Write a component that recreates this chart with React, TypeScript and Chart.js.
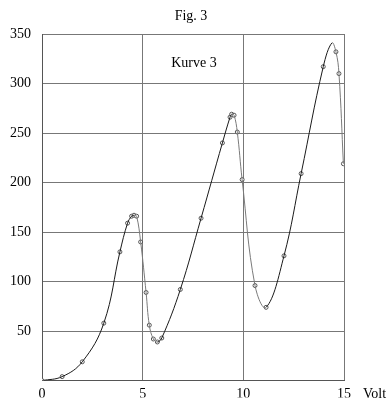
import React, { useEffect, useRef } from "react";
import { Chart, registerables } from "chart.js";

Chart.register(...registerables);

// Measured points (markers) of Kurve 3
const markerX = [0, 1.0, 2.0, 3.07, 3.87, 4.25, 4.45, 4.57, 4.7, 4.9, 5.17, 5.33, 5.53, 5.73, 5.95, 6.87, 7.9, 8.96, 9.34, 9.42, 9.54, 9.7, 9.94, 10.58, 11.13, 12.02, 12.87, 13.97, 14.6, 14.75, 14.97];
const markerY = [0, 4, 19, 58, 130, 159, 166, 167, 166, 140, 89, 56, 42, 39, 43, 92, 164, 240, 266, 269, 268, 251, 203, 96, 74, 126, 209, 317, 332, 310, 219];

// Extra curve points (peak of the third maximum)
const peakX = [14.4];
const peakY = [341];

const xTicks = [0, 5, 10, 15];
const yTicks = [0, 50, 100, 150, 200, 250, 300, 350];

const titleText = "Fig. 3";
const curveLabel = "Kurve 3";
const xUnit = "Volt";

const FONT = "'Liberation Serif', 'Times New Roman', 'DejaVu Serif', serif";

export default function App() {
  const ref = useRef<HTMLCanvasElement | null>(null);

  useEffect(() => {
    if (!ref.current) return;
    const markers = markerX.map((x, i) => ({ x, y: markerY[i] }));
    const curve = [...markers, ...peakX.map((x, i) => ({ x, y: peakY[i] }))].sort((a, b) => a.x - b.x);

    const textPlugin = {
      id: "texts",
      afterDraw(chart: any) {
        const ctx = chart.ctx;
        const xs = chart.scales.x;
        const ys = chart.scales.y;
        ctx.save();
        ctx.fillStyle = "#000";
        ctx.font = `14px ${FONT}`;
        ctx.textBaseline = "middle";
        ctx.textAlign = "center";
        ctx.fillText(titleText, 191, 16);
        ctx.fillText(curveLabel, xs.getPixelForValue(7.55), ys.getPixelForValue(320));
        ctx.textAlign = "left";
        ctx.fillText(xUnit, chart.chartArea.right + 19, 394);
        ctx.restore();
      },
    };

    const chart = new Chart(ref.current, {
      type: "line",
      data: {
        datasets: [
          {
            data: curve,
            borderColor: "#222",
            borderWidth: 1,
            pointRadius: 0,
            tension: 0.4,
            fill: false,
            segment: {
              borderColor: (c: any) => (c.p1.parsed.y < c.p0.parsed.y ? "#7a7a7a" : "#1a1a1a"),
            },
          },
          {
            data: markers,
            showLine: false,
            pointRadius: 2,
            pointBorderWidth: 1,
            pointBorderColor: "#555",
            pointBackgroundColor: "#fff",
          },
        ],
      },
      options: {
        animation: false,
        responsive: false,
        maintainAspectRatio: false,
        layout: { padding: { top: 34, right: 46, bottom: 0, left: 0 } },
        plugins: { legend: { display: false }, tooltip: { enabled: false }, title: { display: false } },
        scales: {
          x: {
            type: "linear",
            min: 0,
            max: 15,
            afterBuildTicks: (s: any) => {
              s.ticks = xTicks.map((v) => ({ value: v }));
            },
            afterFit: (s: any) => {
              s.height = 17;
            },
            ticks: {
              color: "#000",
              font: { family: FONT, size: 14 },
              padding: 5,
              maxRotation: 0,
            },
            grid: { color: "#777", lineWidth: 1, drawTicks: false },
            border: { color: "#555", width: 1 },
          },
          y: {
            type: "linear",
            min: 0,
            max: 350,
            afterBuildTicks: (s: any) => {
              s.ticks = yTicks.map((v) => ({ value: v }));
            },
            afterFit: (s: any) => {
              s.width = 42;
            },
            ticks: {
              color: "#000",
              font: { family: FONT, size: 14 },
              padding: 11,
              callback: (v: any) => (v === 0 ? "" : String(v)),
            },
            grid: { color: "#777", lineWidth: 1, drawTicks: false },
            border: { color: "#555", width: 1 },
          },
        },
      },
      plugins: [textPlugin],
    });
    return () => chart.destroy();
  }, []);

  return (
    <div style={{ position: "absolute", left: 0, top: 0, width: 390, height: 400, background: "#fff" }}>
      <canvas ref={ref} width={390} height={400} style={{ display: "block", width: 390, height: 400 }} />
    </div>
  );
}
